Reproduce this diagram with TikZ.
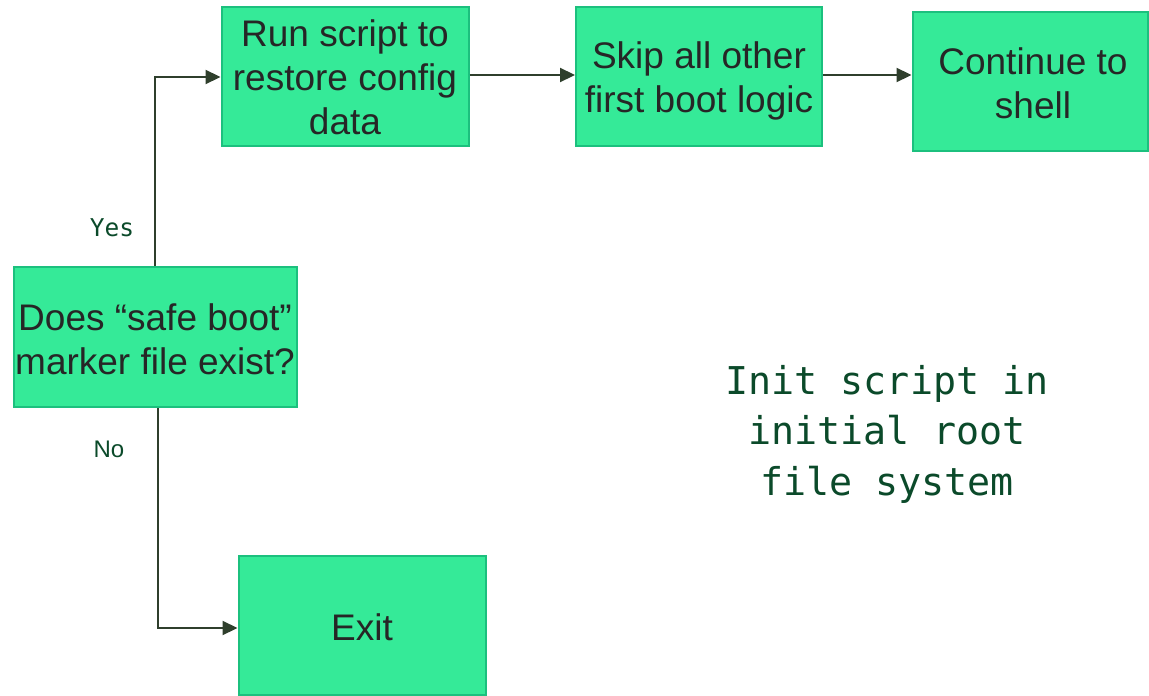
\documentclass[tikz,border=0pt]{standalone}
\usepackage{fontspec}
\setmainfont{Liberation Sans}
\setmonofont{DejaVu Sans Mono}
\usetikzlibrary{arrows.meta}
\definecolor{boxfill}{HTML}{35EA98}
\definecolor{boxline}{HTML}{1CC07E}
\definecolor{arrowc}{HTML}{2F3F2C}
\definecolor{txtgreen}{HTML}{0B4A2A}
\definecolor{boxtext}{HTML}{262626}
\tikzset{
  stepbox/.style={draw=boxline, line width=2pt, fill=boxfill, inner sep=0pt,
    text=boxtext, align=center, font=\fontsize{37}{44}\selectfont},
  boxlabel/.style={text=boxtext, align=center, font=\fontsize{37}{44}\selectfont},
  conn/.style={draw=arrowc, line width=2.2pt, -{Triangle[length=15pt,width=14pt]}},
  lbl/.style={text=txtgreen, font=\ttfamily\fontsize{24.5}{28}\selectfont}
}
\begin{document}
\begin{tikzpicture}[x=1pt,y=-1pt]
\useasboundingbox (0,0) rectangle (1149,696);
\node[stepbox, minimum width=247pt, minimum height=139pt] (run) at (345,76) {};
\node[boxlabel] (runtxt) at (345,77.5) {Run script to\\restore config\\data};
\node[stepbox, minimum width=246pt, minimum height=139pt] (skip) at (699,76) {};
\node[boxlabel] (skiptxt) at (699,81) {Skip all other\\first boot logic};
\node[stepbox, minimum width=235pt, minimum height=139pt] (cont) at (1030,81) {};
\node[boxlabel] (conttxt) at (1033,83) {Continue to\\shell};
\node[stepbox, minimum width=283pt, minimum height=140pt] (does) at (155,337) {};
\node[boxlabel] (doestxt) at (155,339) {Does “safe boot”\\marker file exist?};
\node[stepbox, minimum width=247pt, minimum height=139pt] (exit) at (362,625) {};
\node[boxlabel] (exittxt) at (362,627) {Exit};
\coordinate (c1) at (155,77);
\coordinate (c2) at (158,628);
\draw[conn] (does.north) -- (c1) -- (run.west |- c1);
\draw[conn] (run.east |- 0,75) -- (skip.west |- 0,75);
\draw[conn] (skip.east |- 0,75) -- (cont.west |- 0,75);
\draw[conn] (does.south -| c2) -- (c2) -- (exit.west |- c2);
\node[lbl] (yes) at (112,228) {Yes};
\node[text=txtgreen, font=\fontsize{24}{28}\selectfont] (no) at (109,449) {No};
\node[text=txtgreen, font=\ttfamily\fontsize{38.3}{50.5}\selectfont, align=center] (init) at (887,434) {Init script in\\initial root\\file system};
\end{tikzpicture}
\end{document}
